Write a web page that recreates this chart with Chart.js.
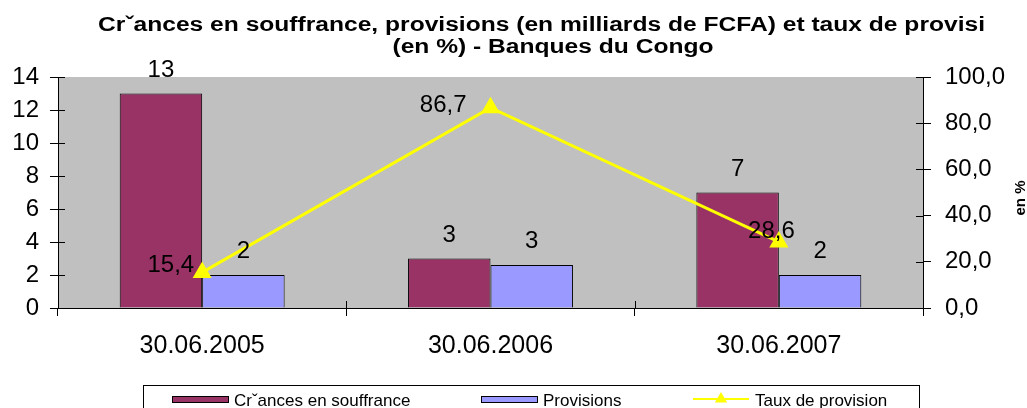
<!DOCTYPE html>
<html>
<head>
<meta charset="utf-8">
<script src="https://cdn.jsdelivr.net/npm/chart.js@4.4.1/dist/chart.umd.min.js"></script>
<style>
html,body{margin:0;padding:0;background:#fff;}
#wrap{width:1027px;height:408px;position:relative;}
</style>
</head>
<body>
<div id="wrap"><canvas id="c" width="1027" height="408"></canvas></div>
<script>
const categories = ["30.06.2005", "30.06.2006", "30.06.2007"];
const creances = [13, 3, 7];
const provisions = [2, 2.6, 2];
const tauxProvision = [15.4, 86.7, 28.6];
const leftTicks = [0, 2, 4, 6, 8, 10, 12, 14];
const rightTicks = [0, 20, 40, 60, 80, 100];
const seriesNames = ["Cr\u02C7ances en souffrance", "Provisions", "Taux de provision"];
const titleLines = ["Cr\u02C7ances en souffrance, provisions (en milliards de FCFA) et taux de provisi", "(en %) - Banques du Congo"];
const rightAxisTitle = "en %";

const FONT = "'Liberation Sans', Arial, sans-serif";
const lineLabelOffsets = [[-8, 0], [-24, 4], [16, -4]];

const decorPlugin = {
  id: 'decor',
  beforeDraw(chart) {
    const {ctx, chartArea: a} = chart;
    ctx.save();
    ctx.fillStyle = '#C0C0C0';
    ctx.fillRect(a.left, a.top, a.right - a.left, a.bottom - a.top);
    ctx.restore();
  },
  afterDraw(chart) {
    const {ctx, chartArea: a, scales} = chart;
    ctx.save();
    // inner halves of the crossing tick marks
    ctx.strokeStyle = '#000';
    ctx.lineWidth = 1;
    ctx.beginPath();
    scales.y.ticks.forEach((t, i) => {
      const py = Math.round(scales.y.getPixelForTick(i)) + 0.5;
      ctx.moveTo(a.left, py); ctx.lineTo(a.left + 7, py);
    });
    scales.y1.ticks.forEach((t, i) => {
      const py = Math.round(scales.y1.getPixelForTick(i)) + 0.5;
      ctx.moveTo(a.right - 7, py); ctx.lineTo(a.right, py);
    });
    for (let i = 0; i <= categories.length; i++) {
      const px = Math.round(scales.x.getPixelForValue(i - 0.5)) + 0.5;
      ctx.moveTo(px, a.bottom - 7); ctx.lineTo(px, a.bottom);
    }
    ctx.stroke();

    // data labels
    ctx.fillStyle = '#000';
    ctx.font = '24px ' + FONT;
    ctx.textBaseline = 'alphabetic';
    ctx.textAlign = 'center';
    [0, 1].forEach(di => {
      const meta = chart.getDatasetMeta(di);
      const data = chart.data.datasets[di].data;
      meta.data.forEach((el, i) => {
        ctx.fillText(String(Math.round(data[i])), el.x, el.y - 17);
      });
    });
    const lmeta = chart.getDatasetMeta(2);
    ctx.textAlign = 'right';
    lmeta.data.forEach((el, i) => {
      const v = chart.data.datasets[2].data[i].toFixed(1).replace('.', ',');
      const o = lineLabelOffsets[i];
      ctx.fillText(v, el.x + o[0], el.y + o[1]);
    });

    // title
    ctx.font = 'bold 20px ' + FONT;
    ctx.textAlign = 'left';
    const w1 = ctx.measureText(titleLines[0]).width;
    const sx = 887 / w1;
    ctx.save();
    ctx.translate(98, 31);
    ctx.scale(sx, 1);
    ctx.fillText(titleLines[0], 0, 0);
    ctx.restore();
    const w2 = ctx.measureText(titleLines[1]).width * sx;
    ctx.save();
    ctx.translate(553 - w2 / 2, 53);
    ctx.scale(sx, 1);
    ctx.fillText(titleLines[1], 0, 0);
    ctx.restore();

    // right axis title
    ctx.save();
    ctx.font = 'bold 15px ' + FONT;
    ctx.translate(1021, 198);
    ctx.rotate(-Math.PI / 2);
    ctx.textAlign = 'center';
    ctx.textBaseline = 'middle';
    ctx.fillText(rightAxisTitle, 0, 0);
    ctx.restore();

    // legend
    ctx.strokeStyle = '#000';
    ctx.lineWidth = 1;
    ctx.strokeRect(143.5, 385.5, 776, 30);
    const ds = chart.data.datasets;
    ctx.font = '17px ' + FONT;
    ctx.textAlign = 'left';
    ctx.textBaseline = 'alphabetic';
    const sw = [[172, 234], [481, 543]];
    [0, 1].forEach(k => {
      ctx.fillStyle = ds[k].backgroundColor;
      ctx.fillRect(sw[k][0], 396, 57, 6);
      ctx.strokeRect(sw[k][0] + 0.5, 396.5, 56, 6);
      ctx.fillStyle = '#000';
      ctx.fillText(ds[k].label, sw[k][1], 405.5);
    });
    ctx.strokeStyle = ds[2].borderColor;
    ctx.lineWidth = 2;
    ctx.beginPath();
    ctx.moveTo(693, 399); ctx.lineTo(749, 399);
    ctx.stroke();
    ctx.fillStyle = ds[2].borderColor;
    const r = 7;
    ctx.beginPath();
    ctx.moveTo(721, 399 - r);
    ctx.lineTo(721 + Math.sin(2 * Math.PI / 3) * r, 399 + r / 2);
    ctx.lineTo(721 - Math.sin(2 * Math.PI / 3) * r, 399 + r / 2);
    ctx.closePath();
    ctx.fill();
    ctx.fillStyle = '#000';
    ctx.fillText(ds[2].label, 755, 405.5);
    ctx.restore();
  }
};

Chart.defaults.color = '#000';
Chart.defaults.font.family = FONT;

new Chart(document.getElementById('c'), {
  type: 'bar',
  data: {
    labels: categories,
    datasets: [
      {
        type: 'bar', label: seriesNames[0], data: creances, yAxisID: 'y',
        backgroundColor: '#993366', borderColor: '#000', borderWidth: 1, order: 2
      },
      {
        type: 'bar', label: seriesNames[1], data: provisions, yAxisID: 'y',
        backgroundColor: '#9999FF', borderColor: '#000', borderWidth: 1, order: 2
      },
      {
        type: 'line', label: seriesNames[2], data: tauxProvision, yAxisID: 'y1',
        borderColor: '#FFFF00', backgroundColor: '#FFFF00', borderWidth: 3,
        pointStyle: 'triangle', pointRadius: 11, pointBorderWidth: 0,
        tension: 0, order: 0
      }
    ]
  },
  options: {
    responsive: false,
    animation: false,
    layout: { padding: { top: 77, left: 0, right: 0, bottom: 0 } },
    plugins: { legend: { display: false }, title: { display: false }, tooltip: { enabled: false } },
    datasets: { bar: { categoryPercentage: 0.572, barPercentage: 1 } },
    scales: {
      x: {
        offset: true,
        grid: { offset: true, drawOnChartArea: false, drawTicks: true, tickLength: 8, color: '#000' },
        border: { display: true, color: '#000' },
        ticks: { font: { size: 25 }, padding: 15, color: '#000', maxRotation: 0 },
        afterFit(s) { s.height = 100; }
      },
      y: {
        position: 'left', min: 0, max: 14,
        afterBuildTicks(s) { s.ticks = leftTicks.map(v => ({ value: v })); },
        grid: { drawOnChartArea: false, drawTicks: true, tickLength: 8, color: '#000' },
        border: { display: true, color: '#000' },
        ticks: { font: { size: 24 }, padding: 11, color: '#000' },
        afterFit(s) { s.width = 58; }
      },
      y1: {
        position: 'right', min: 0, max: 100,
        afterBuildTicks(s) { s.ticks = rightTicks.map(v => ({ value: v })); },
        grid: { drawOnChartArea: false, drawTicks: true, tickLength: 8, color: '#000' },
        border: { display: true, color: '#000' },
        ticks: { font: { size: 24 }, padding: 14, color: '#000',
          callback: v => Number(v).toFixed(1).replace('.', ',') },
        afterFit(s) { s.width = 104; }
      }
    }
  },
  plugins: [decorPlugin]
});
</script>
</body>
</html>
